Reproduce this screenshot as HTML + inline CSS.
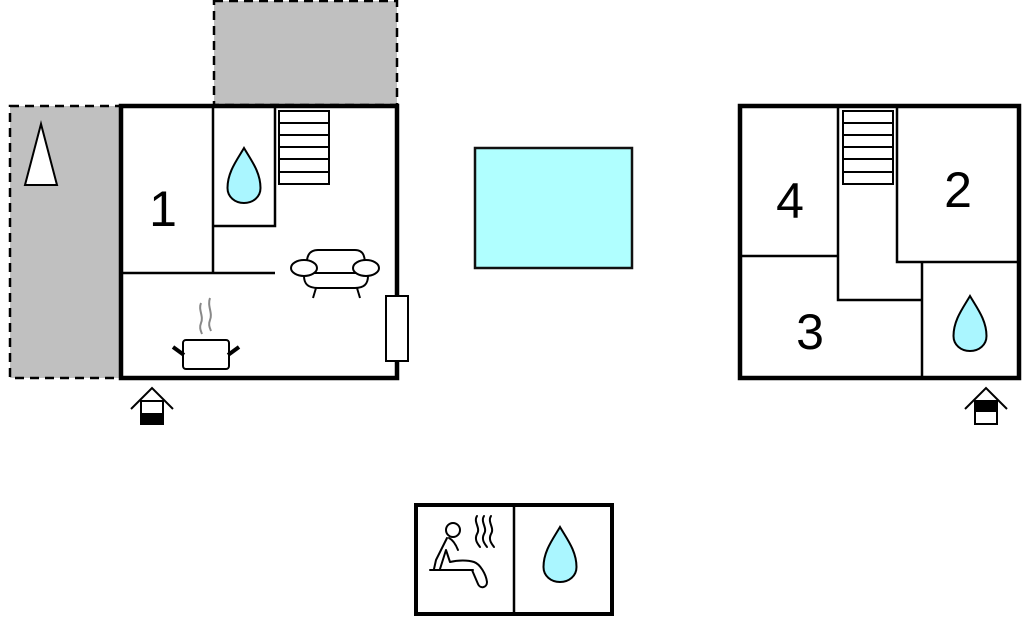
<!DOCTYPE html>
<html><head><meta charset="utf-8"><style>
html,body{margin:0;padding:0;background:#fff;width:1024px;height:618px;overflow:hidden}
svg{display:block}
text{font-family:"Liberation Sans",sans-serif;fill:#000}
</style></head><body>
<svg width="1024" height="618" viewBox="0 0 1024 618" xmlns="http://www.w3.org/2000/svg">
<defs>
<path id="drop" d="M0,-28 C7,-16 16.5,-4 16.5,12 C16.5,21 9,27 0,27 C-9,27 -16.5,21 -16.5,12 C-16.5,-4 -7,-16 0,-28 Z" fill="#aaf6ff" stroke="#000" stroke-width="2"/>
<g id="stairs" fill="#fff" stroke="#000" stroke-width="2">
<rect x="0" y="0" width="50" height="73"/>
<line x1="0" y1="12" x2="50" y2="12"/><line x1="0" y1="24" x2="50" y2="24"/>
<line x1="0" y1="36" x2="50" y2="36"/><line x1="0" y1="48" x2="50" y2="48"/>
<line x1="0" y1="61" x2="50" y2="61"/>
</g>
</defs>
<rect x="10" y="106" width="111" height="272" fill="#c0c0c0" stroke="#000" stroke-width="2.5" stroke-dasharray="9,6"/>
<rect x="214" y="1" width="183" height="104" fill="#c0c0c0" stroke="#000" stroke-width="2.5" stroke-dasharray="9,6"/>
<polygon points="41,124 25,185 57,185" fill="#fff" stroke="#000" stroke-width="2"/>
<rect x="121" y="106" width="276" height="272" fill="#fff" stroke="#000" stroke-width="4.5"/>
<g stroke="#000" stroke-width="2.5" fill="none">
<line x1="213" y1="106" x2="213" y2="273"/>
<polyline points="213,226 275,226 275,106"/>
<line x1="121" y1="273" x2="275" y2="273"/>
</g>
<use href="#stairs" x="279" y="111"/>
<use href="#drop" x="244" y="176"/>
<text x="163" y="226" font-size="50" text-anchor="middle">1</text>
<g stroke="#000" stroke-width="2" fill="#fff">
<path d="M307,268 C306,258 308,250 318,250 L355,250 C364,250 366,258 364,268"/>
<path d="M304,270 L304,276 C304,284 308,288 318,288 L355,288 C364,288 368,284 368,276 L368,270"/>
<line x1="304" y1="273" x2="368" y2="273"/>
<ellipse cx="304" cy="268" rx="13" ry="8"/>
<ellipse cx="366" cy="268" rx="13" ry="8"/>
<line x1="316" y1="288" x2="313" y2="298"/><line x1="357" y1="288" x2="360" y2="298"/>
</g>
<rect x="386" y="296" width="22" height="65" fill="#fff" stroke="#000" stroke-width="2"/>
<g stroke="#888" stroke-width="2" fill="none">
<path d="M201,303 C198,310 204,316 201,323 C199,328 201,331 202,334"/>
<path d="M210,298 C207,306 213,313 210,320 C208,325 210,328 211,331"/>
</g>
<rect x="183" y="340" width="46" height="29" rx="3" fill="#fff" stroke="#000" stroke-width="2"/>
<line x1="173" y1="347" x2="184" y2="355" stroke="#000" stroke-width="4"/>
<line x1="239" y1="347" x2="228" y2="355" stroke="#000" stroke-width="4"/>
<polyline points="131,409 152,388 173,409" fill="none" stroke="#000" stroke-width="2"/>
<rect x="141" y="401" width="22" height="23" fill="#fff" stroke="#000" stroke-width="2"/>
<rect x="141" y="413" width="22" height="11" fill="#000"/>
<rect x="475" y="148" width="157" height="120" fill="#b0ffff" stroke="#111" stroke-width="2.5"/>
<rect x="740" y="106" width="279" height="272" fill="#fff" stroke="#000" stroke-width="4.5"/>
<g stroke="#000" stroke-width="2.5" fill="none">
<line x1="740" y1="256" x2="838" y2="256"/>
<polyline points="838,106 838,300 922,300"/>
<polyline points="897,106 897,262 1019,262"/>
<line x1="922" y1="262" x2="922" y2="378"/>
</g>
<use href="#stairs" x="843" y="111"/>
<text x="790" y="218" font-size="50" text-anchor="middle">4</text>
<text x="958" y="207" font-size="50" text-anchor="middle">2</text>
<text x="810" y="349" font-size="50" text-anchor="middle">3</text>
<use href="#drop" x="970" y="324"/>
<polyline points="965,409 986,388 1007,409" fill="none" stroke="#000" stroke-width="2"/>
<rect x="975" y="401" width="22" height="23" fill="#fff" stroke="#000" stroke-width="2"/>
<rect x="975" y="401" width="22" height="11" fill="#000"/>
<rect x="416" y="505" width="196" height="109" fill="#fff" stroke="#000" stroke-width="4"/>
<line x1="514" y1="505" x2="514" y2="614" stroke="#000" stroke-width="2.5"/>
<use href="#drop" x="560" y="555"/>
<g stroke="#000" stroke-width="2" fill="none" stroke-linecap="round" stroke-linejoin="round">
<circle cx="453" cy="530" r="7"/>
<path d="M447,538 L436,560 L434,569"/>
<path d="M440,569 L446,550 L450,562 C458,560 468,560 474,562 C480,564 486,574 487,582 C487,588 480,589 478,584 L472,570"/>
<path d="M449,538 C453,540 456,545 458,550"/>
<line x1="430" y1="570" x2="473" y2="570"/>
<path d="M477,516 C473,522 481,528 477,534 C474,540 478,544 480,547"/>
<path d="M484,516 C480,522 488,528 484,534 C481,540 485,544 487,547"/>
<path d="M491,516 C487,522 495,528 491,534 C488,540 492,544 494,547"/>
</g>
</svg>
</body></html>
